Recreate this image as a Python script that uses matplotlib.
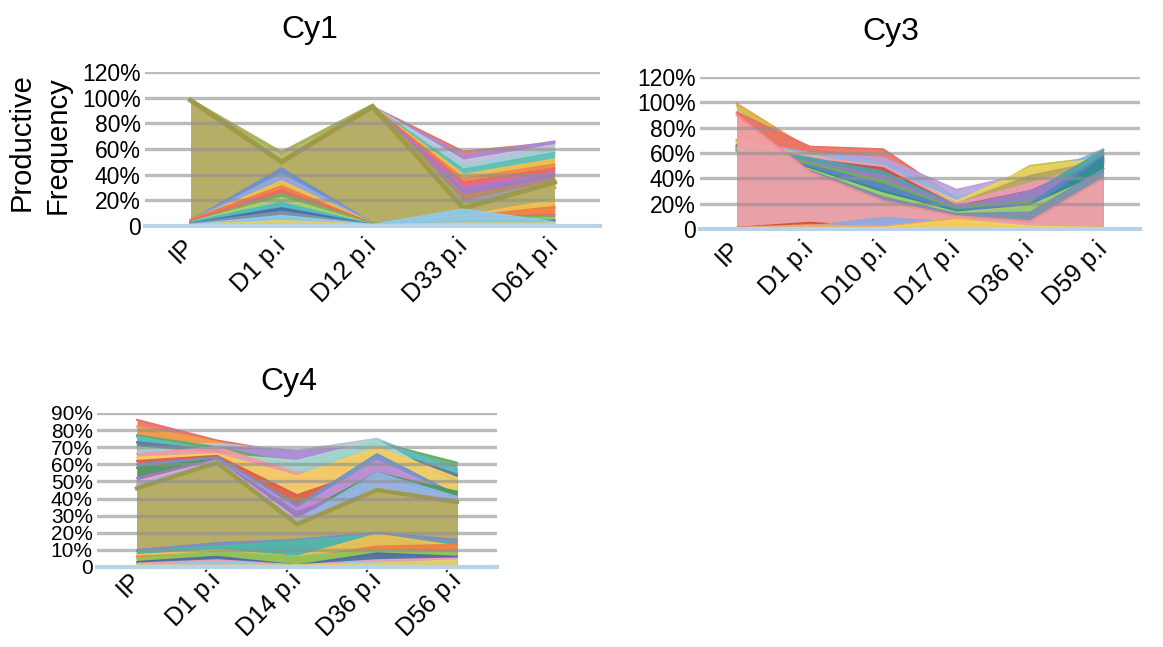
import matplotlib
matplotlib.use("Agg")
import matplotlib.pyplot as plt

plt.rcParams['font.family'] = ['Liberation Sans', 'DejaVu Sans']

# ---- data (productive frequency, %) ----
cy1_days = ["IP", "D1 p.i", "D12 p.i", "D33 p.i", "D61 p.i"]
# clones hidden behind the dominant clone until D12
cy1_back = [
    [2, 3, 93, 58, 65],
    [2, 3, 93, 55, 66],
    [2, 3, 93, 51, 63],
    [2, 3, 93, 47, 60],
    [2, 3, 93, 44, 57],
    [2, 3, 93, 40, 52],
    [2, 3, 93, 37, 48],
    [2, 3, 93, 34, 45],
    [2, 3, 93, 31, 42],
    [2, 3, 93, 28, 40],
    [2, 3, 93, 24, 37],
    [2, 3, 93, 19, 35],
]
cy1_back_colors = ['#e8736c', '#a98bd6', '#c3c6dc', '#9fd0d6', '#5cc0b5', '#f2c04f',
                   '#ef8a45', '#e86a6a', '#c672b8', '#9c7dc8', '#b88a6a', '#9aa0a8']
cy1_main_back = [98, 57, 94, 16, 30]
cy1_main = [98, 50, 93, 14, 34]
cy1_front = [
    [4, 45, 2, 10, 14],
    [4, 40, 2, 9, 12],
    [4, 35, 2, 8, 20],
    [5, 31, 2, 7, 15],
    [4, 28, 2, 6, 9],
    [3, 25, 2, 5, 8],
    [3, 22, 1, 5, 6],
    [3, 18, 1, 4, 5],
    [2, 14, 1, 4, 4],
    [2, 11, 1, 3, 3],
    [1, 8, 1, 13, 3],
    [1, 4, 1, 2, 2],
]
cy1_front_colors = ['#6f8fd4', '#93a9e0', '#f2c04f', '#ef7f45', '#e86a6a', '#76b35a',
                    '#a9d16e', '#4fb8c9', '#4c6fa8', '#7f93a8', '#8fcbe9', '#e2cf6a']

cy3_days = ["IP", "D1 p.i", "D10 p.i", "D17 p.i", "D36 p.i", "D59 p.i"]
cy3_series = [
    [99, 63, 55, 18, 46, 55],
    [97, 62, 52, 17, 50, 57],
    [92, 65, 63, 24, 40, 52],
    [70, 60, 56, 31, 44, 60],
    [66, 60, 52, 25, 38, 63],
    [68, 58, 48, 22, 48, 56],
    [70, 56, 46, 20, 42, 54],
    [66, 57, 50, 20, 36, 52],
    [66, 55, 48, 18, 30, 54],
    [65, 56, 45, 18, 28, 62],
    [64, 53, 42, 17, 30, 50],
    [64, 52, 38, 16, 22, 48],
    [63, 50, 35, 15, 20, 58],
    [62, 48, 30, 14, 15, 56],
    [63, 47, 28, 13, 18, 44],
    [62, 46, 25, 12, 13, 47],
]
cy3_colors = ['#f0a04a', '#c9c454', '#ea7065', '#b7a2dc', '#8fb5e3', '#e9d45c',
              '#b8a560', '#ef9ab8', '#b55a55', '#4aa7a5', '#9c7dc8', '#6fae5a',
              '#5b83c7', '#2f8f8f', '#a6cf6a', '#7c8fb0']
cy3_main = [90, 45, 22, 10, 6, 40]
cy3_low = [
    [1, 5, 1, 2, 1, 1],
    [0, 2, 9, 5, 1, 1],
    [1, 3, 2, 8, 1, 1],
    [0, 1, 1, 7, 2, 1],
]
cy3_low_colors = ['#c9583e', '#8fa9e0', '#f3a56a', '#f0d25a']

cy4_days = ["IP", "D1 p.i", "D14 p.i", "D36 p.i", "D56 p.i"]
cy4_series = [
    [86, 74, 66, 72, 55],
    [82, 73, 62, 71, 52],
    [72, 72, 68, 75, 56],
    [70, 70, 68, 70, 50],
    [77, 70, 60, 73, 61],
    [76, 68, 58, 74, 57],
    [73, 68, 56, 70, 54],
    [70, 66, 62, 74, 48],
    [66, 70, 55, 60, 42],
    [64, 66, 53, 70, 52],
    [62, 65, 42, 58, 40],
    [60, 64, 36, 66, 42],
    [58, 63, 34, 62, 41],
    [58, 63, 30, 55, 44],
    [52, 63, 32, 50, 40],
    [50, 62, 28, 52, 40],
    [48, 62, 27, 55, 41],
]
cy4_colors = ['#ea7065', '#f0a04a', '#b9c6d8', '#a98bd6', '#62ad6a', '#5bbfc0',
              '#5f7f9a', '#a8d8d0', '#f29aa6', '#f5cd62', '#d95f4e', '#6f93d0',
              '#c490d6', '#4c9a5a', '#9c7dc8', '#f5a3c0', '#8fb5e3']
cy4_main = [46, 61, 25, 45, 38]
cy4_low = [
    [10, 14, 16, 20, 16],
    [9, 12, 15, 19, 13],
    [7, 10, 6, 19, 12],
    [6, 8, 5, 12, 13],
    [5, 9, 6, 10, 8],
    [3, 6, 1, 8, 6],
    [2, 4, 1, 4, 5],
    [1, 3, 1, 3, 3],
    [1, 1, 1, 2, 4],
]
cy4_low_colors = ['#7c8fc0', '#4fb8a9', '#f2c04f', '#ef7f45', '#8cc75a', '#4c6fa8',
                  '#f19db5', '#8fcbe9', '#e2cf6a']

olive = '#b6ad66'
olive_edge = '#a09945'
pink = '#f4a3a8'


def area(ax, vals, color, edge=None, alpha=0.9, lw=1.4, z=2):
    x = range(len(vals))
    ax.fill_between(x, 0, vals, color=color, alpha=alpha, lw=0, zorder=z)
    ax.plot(x, vals, color=edge or color, lw=lw, zorder=z, solid_joinstyle='miter')


def style(ax, days, ymax, step, fs, xpad=12):
    ax.set_xlim(-0.5, len(days) - 0.5)
    ax.set_ylim(0, ymax)
    ticks = list(range(0, ymax + 1, step))
    ax.set_yticks(ticks)
    ax.set_yticklabels(['0'] + ['%d%%' % t for t in ticks[1:]], fontsize=fs)
    for t in ticks[1:]:
        ax.axhline(t, color='#8f8f8f', lw=2.4, alpha=0.6, zorder=10)
    ax.axhline(0, color='#b8d2e6', lw=3, zorder=11, clip_on=False)
    ax.set_xticks(range(len(days)))
    ax.set_xticklabels(days, rotation=45, ha='right', va='center',
                       rotation_mode='anchor', fontsize=18)
    ax.tick_params(axis='x', length=0, pad=xpad)
    ax.tick_params(axis='y', length=0, pad=3)
    for s in ax.spines.values():
        s.set_visible(False)
    ax.patch.set_alpha(0)


fig = plt.figure(figsize=(11.63, 6.47), dpi=100)

# Cy1
ax1 = fig.add_axes([145 / 1163, 1 - 226 / 647, 455 / 1163, 154 / 647])
for s, c in zip(cy1_back, cy1_back_colors):
    area(ax1, s, c, z=2)
area(ax1, cy1_main_back, '#b7bd74', edge='#a9b25c', alpha=1, lw=2.5, z=3)
area(ax1, cy1_main, olive, edge=olive_edge, alpha=1, lw=3.5, z=3)
for s, c in zip(cy1_front, cy1_front_colors):
    area(ax1, s, c, z=4)
style(ax1, cy1_days, 120, 20, 16.5)
fig.text(22 / 1163, 1 - 142 / 647, 'Productive', rotation=90, ha='center', va='center', fontsize=21)
fig.text(58 / 1163, 1 - 145 / 647, 'Frequency', rotation=90, ha='center', va='center', fontsize=21)
fig.text(310 / 1163, 1 - 30 / 647, 'Cy1', ha='center', va='center', fontsize=23)

# Cy3
ax3 = fig.add_axes([700 / 1163, 1 - 229 / 647, 440 / 1163, 152 / 647])
for s, c in zip(cy3_series, cy3_colors):
    area(ax3, s, c, z=2)
area(ax3, cy3_main, pink, edge='#f08f96', alpha=0.9, lw=1.5, z=3)
for s, c in zip(cy3_low, cy3_low_colors):
    area(ax3, s, c, z=4)
style(ax3, cy3_days, 120, 20, 16.5)
fig.text(891 / 1163, 1 - 32 / 647, 'Cy3', ha='center', va='center', fontsize=23)

# Cy4
ax4 = fig.add_axes([97 / 1163, 1 - 567 / 647, 400 / 1163, 154 / 647])
for s, c in zip(cy4_series, cy4_colors):
    area(ax4, s, c, z=2)
area(ax4, cy4_main, olive, edge=olive_edge, alpha=1, lw=3, z=3)
for s, c in zip(cy4_low, cy4_low_colors):
    area(ax4, s, c, z=4)
style(ax4, cy4_days, 90, 10, 15, xpad=7)
fig.text(289 / 1163, 1 - 382 / 647, 'Cy4', ha='center', va='center', fontsize=23)

fig.savefig('out.png', dpi=100)
